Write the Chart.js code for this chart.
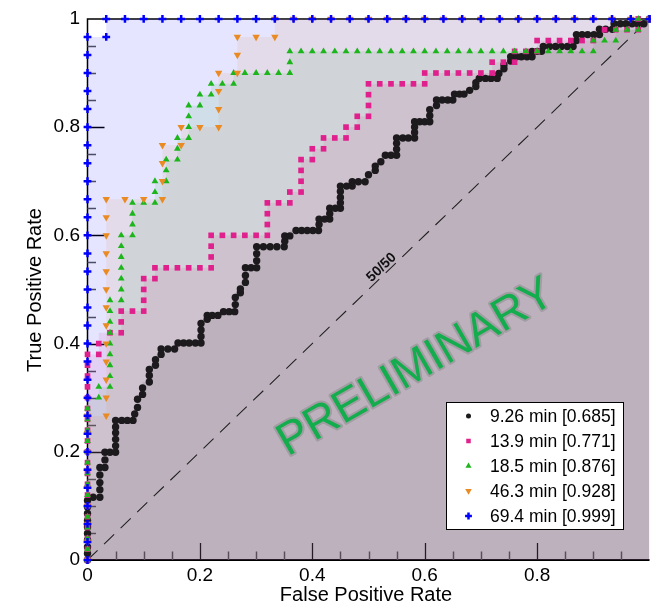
<!DOCTYPE html>
<html>
<head>
<meta charset="utf-8">
<script src="https://cdn.jsdelivr.net/npm/chart.js@4.4.1/dist/chart.umd.min.js"></script>
<style>
  html, body { margin: 0; padding: 0; background: #fff; }
  #wrap { width: 651px; height: 605px; overflow: hidden; }
  canvas { display: block; }
</style>
</head>
<body>
<div id="wrap"><canvas id="roc" width="656" height="605"></canvas></div>
<script>
// Etiquetas de la leyenda (ventana de tiempo [AUC])
const seriesNames = ['9.26 min [0.685]', '13.9 min [0.771]', '18.5 min [0.876]', '46.3 min [0.928]', '69.4 min [0.999]'];
const tickValues = [0, 0.2, 0.4, 0.6, 0.8, 1];

// 69.4 min: cuentas de falsos / verdaderos positivos (30 neg, 30 pos)
const blueNeg = 30, bluePos = 30;
const blueFP = [0,0,0,0,0,0,0,0,0,0,0,0,0,0,0,0,0,0,0,0,0,0,0,0,0,0,0,0,0,0,
  1,1,2,3,4,5,6,7,8,9,10,11,12,13,14,15,16,17,18,19,20,21,22,23,24,25,26,27,28,29,30];
const blueTP = [0,1,2,3,4,5,6,7,8,9,10,11,12,13,14,15,16,17,18,19,20,21,22,23,24,25,26,27,28,29,
  29,30,30,30,30,30,30,30,30,30,30,30,30,30,30,30,30,30,30,30,30,30,30,30,30,30,30,30,30,30,30];

// 46.3 min (30 neg, 30 pos)
const orangeNeg = 30, orangePos = 30;
const orangeFP = [0,0,0,0,0,0,0,0,0, 1,1,1,1,1,1,1,1,1,1,1,1,1, 2, 3, 4,4,4,4, 5,5, 6, 7,7,7,7, 8,8,8, 9, 10,10,
  11,12,13,14,15,16,17,18,19,20,21,22,23,24,25,26,27,28,29,30];
const orangeTP = [0,1,2,3,4,5,6,7,8, 8,9,10,11,12,13,14,15,16,17,18,19,20, 20, 20, 20,21,22,23, 23,24, 24, 24,25,26,27, 27,28,29, 29, 29,30,
  30,30,30,30,30,30,30,30,30,30,30,30,30,30,30,30,30,30,30,30];

// 18.5 min (50 neg, 50 pos)
const greenNeg = 50, greenPos = 50;
const greenFP = [0,0,0,0,0,0,0,0,0,0,0,0,0,0,0, 1,1, 2,2,2,2,2,2,2,2,2, 3,3,3,3,3,3,3, 4,4,4,4, 5, 6,6,6, 7,7,7, 8,8,8,
  9,9,9,9, 10,10, 11,11, 12, 13,13, 14,15,16,17, 18,18,18,
  19,20,21,22,23,24,25,26,27,28,29,30,31,32,33,34,35,36,37,38,39,40,41,42,43,44,45, 45, 46, 47,47, 48, 49,49, 50];
const greenTP = [0,1,2,3,4,5,6,7,8,9,10,11,12,13,14, 15,16, 16,17,18,19,20,21,22,23,24, 24,25,26,27,28,29,30, 30,31,32,33, 33, 33,34,35, 35,36,37, 37,38,39,
  39,40,41,42, 42,43, 43,44, 44, 44,45, 45,45,45,45, 45,46,47,
  47,47,47,47,47,47,47,47,47,47,47,47,47,47,47,47,47,47,47,47,47,47,47,47,47,47,47, 48, 48, 48,49, 49, 49,50, 50];

// 13.9 min (50 neg, 50 pos)
const magentaNeg = 50, magentaPos = 50;
const magentaFP = [0,0,0,0,0,0,0,0,0,0,0,0,0,0,0,0,0,0,0,0, 1,1, 2, 3,3,3, 4, 5,5,5,5, 6,6, 7,8,9,10, 11,11,11,11,
  12,13,14,15, 16,16,16,16, 17, 18,18, 19,19,19,19, 20,20, 21,21, 22, 23,23, 24,24, 25,25,25,25,
  26,27,28,29, 30,30, 31,32,33,34,35, 36,36, 37, 38,38, 39, 40,40, 41,42,43,44,45, 46, 47, 48, 49,49, 50];
const magentaTP = [0,1,2,3,4,5,6,7,8,9,10,11,12,13,14,15,16,17,18,19, 19,20, 21, 21,22,23, 23, 23,24,25,26, 26,27, 27,27,27,27, 27,28,29,30,
  30,30,30,30, 30,31,32,33, 33, 33,34, 34,35,36,37, 37,38, 38,39, 39, 39,40, 40,41, 41,42,43,44,
  44,44,44,44, 44,45, 45,45,45,45,45, 45,46, 46, 46,47, 47, 47,48, 48,48,48,48,48, 49, 49, 49, 49,50, 50];

// 9.26 min: tasas leidas directamente
const blackFPR = [0,0,0,0,0,0,0,0,0,0, 0.010, 0.022,0.022,0.022,0.022,0.022, 0.031,0.031,0.031, 0.040,0.050,
  0.050,0.050,0.050,0.050,0.050, 0.061,0.071,0.081, 0.084, 0.089,0.089, 0.098,0.098, 0.110,0.110,0.110,
  0.121,0.121, 0.131,0.131, 0.143,0.155, 0.161, 0.171,0.181,0.192,0.202, 0.202,0.202,0.202, 0.213,0.213,
  0.222,0.232, 0.242,0.252,0.262, 0.263,0.263, 0.272,0.272, 0.281,0.281,0.281, 0.291,0.301, 0.301,0.301,0.301,
  0.313,0.325,0.337,0.350, 0.351,0.351, 0.360, 0.371, 0.381,0.391,0.401,0.411, 0.412,0.412, 0.422,0.431,
  0.431,0.431, 0.441,0.450, 0.450,0.450,0.450,0.450, 0.461,0.471, 0.471, 0.482,0.494, 0.500, 0.512,0.512,
  0.522, 0.530, 0.540,0.550, 0.550,0.550,0.550, 0.561,0.571,0.582, 0.582,0.582,0.582, 0.591,0.600,0.609,
  0.609,0.609, 0.621,0.621, 0.631,0.641,0.650, 0.653, 0.662,0.670, 0.680, 0.691,0.691, 0.697,
  0.708,0.718,0.729, 0.732, 0.741,0.741, 0.753,0.753, 0.763,0.772,0.782,0.791, 0.791, 0.800,0.808, 0.811,
  0.822,0.833,0.843,0.854,0.864, 0.870,0.870, 0.880,0.890,0.901,0.911, 0.911, 0.922,0.934, 0.937,
  0.948,0.958,0.969,0.979,0.990, 1];
const blackTPR = [0,0.012,0.024,0.037,0.049,0.061,0.073,0.086,0.098,0.110, 0.116, 0.116,0.130,0.143,0.157,0.171, 0.171,0.185,0.199, 0.199,0.199,
  0.211,0.223,0.235,0.246,0.258, 0.258,0.258,0.258, 0.270, 0.282,0.297, 0.306,0.318, 0.329,0.341,0.352,
  0.360,0.370, 0.380,0.390, 0.390,0.390, 0.401, 0.401,0.401,0.401,0.401, 0.413,0.425,0.437, 0.445,0.452,
  0.452,0.452, 0.459,0.459,0.459, 0.472,0.485, 0.494,0.501, 0.513,0.526,0.540, 0.540,0.540, 0.553,0.566,0.579,
  0.579,0.579,0.579,0.579, 0.589,0.599, 0.599, 0.609, 0.609,0.609,0.609,0.609, 0.620,0.630, 0.630,0.630,
  0.640,0.650, 0.650,0.650, 0.660,0.670,0.681,0.691, 0.691,0.691, 0.699, 0.699,0.699, 0.712, 0.720,0.728,
  0.736, 0.748, 0.748,0.748, 0.759,0.770,0.780, 0.780,0.780,0.780, 0.790,0.800,0.810, 0.810,0.810,0.810,
  0.821,0.832, 0.840,0.850, 0.850,0.850,0.850, 0.861, 0.861,0.861, 0.868, 0.875,0.882, 0.890,
  0.890,0.890,0.890, 0.899, 0.908,0.915, 0.922,0.930, 0.930,0.930,0.930,0.930, 0.940, 0.940,0.940, 0.949,
  0.949,0.949,0.949,0.949,0.949, 0.960,0.971, 0.971,0.971,0.971,0.971, 0.981, 0.981,0.981, 0.991,
  0.991,0.991,0.991,0.991,0.991, 1];

// Estilo de cada curva (mismo orden que seriesNames)
const FONT = '"Liberation Sans", Arial, sans-serif';
const styles = [
  { color: '#1c1a1c', rgb: '0,0,0',       point: 'circle',   radius: 3.7, rot: 0,   bw: 0,   legendR: 2.5 },
  { color: '#e0208c', rgb: '224,32,140',  point: 'rect',     radius: 4.0, rot: 0,   bw: 0,   legendR: 3.2 },
  { color: '#1cb51c', rgb: '28,181,28',   point: 'triangle', radius: 3.9, rot: 0,   bw: 0,   legendR: 3.5 },
  { color: '#ea8a22', rgb: '234,138,34',  point: 'triangle', radius: 4.3, rot: 180, bw: 0,   legendR: 3.8 },
  { color: '#0000ff', rgb: '0,0,255',     point: 'cross',    radius: 3.9, rot: 0,   bw: 2.5, legendR: 3.4 }
];

function toPoints(fp, tp, nNeg, nPos) {
  return fp.map((v, i) => ({ x: v / nNeg, y: tp[i] / nPos }));
}

const curves = [
  blackFPR.map((v, i) => ({ x: v, y: blackTPR[i] })),
  toPoints(magentaFP, magentaTP, magentaNeg, magentaPos),
  toPoints(greenFP, greenTP, greenNeg, greenPos),
  toPoints(orangeFP, orangeTP, orangeNeg, orangePos),
  toPoints(blueFP, blueTP, blueNeg, bluePos)
];

const datasets = [];
// areas bajo cada curva (escalonadas, semitransparentes)
curves.forEach((pts, i) => {
  datasets.push({
    data: pts.slice(), showLine: true, stepped: 'after', fill: 'origin',
    backgroundColor: 'rgba(' + styles[i].rgb + ',0.1)',
    borderWidth: 0, borderColor: 'rgba(0,0,0,0)', pointRadius: 0, order: 30 - i
  });
});
// linea 50/50
datasets.push({
  data: [{ x: 0, y: 0 }, { x: 1, y: 1 }], showLine: true, fill: false,
  borderColor: '#222', borderWidth: 1.1, borderDash: [14, 9], pointRadius: 0, order: 15
});
// marcadores (sin recorte para que se vean sobre los ejes)
curves.forEach((pts, i) => {
  const s = styles[i];
  datasets.push({
    data: pts.slice(), showLine: false, clip: false,
    pointStyle: s.point, pointRadius: s.radius, pointRotation: s.rot,
    backgroundColor: s.color, borderColor: s.color, borderWidth: s.bw,
    order: 10 - i
  });
});

const decor = {
  id: 'decor',
  beforeDatasetsDraw(chart) {
    const { ctx, chartArea: a, scales: { x, y } } = chart;
    ctx.save();
    // marco
    ctx.strokeStyle = '#000';
    ctx.lineWidth = 1.5;
    ctx.beginPath();
    ctx.moveTo(a.right, a.top); ctx.lineTo(a.left, a.top); ctx.lineTo(a.left, a.bottom);
    ctx.stroke();
    ctx.lineWidth = 2;
    ctx.beginPath(); ctx.moveTo(a.left - 1, a.bottom); ctx.lineTo(a.right, a.bottom); ctx.stroke();

    // marcas hacia dentro
    for (let i = 1; i < 20; i++) {
      const v = i * 0.05;
      const major = i % 4 === 0;
      const len = major ? 17 : 8.5;
      ctx.strokeStyle = major ? '#000' : '#555';
      ctx.lineWidth = major ? 1.3 : 1.5;
      const px = Math.round(x.getPixelForValue(v)) + 0.5;
      const py = Math.round(y.getPixelForValue(v)) + 0.5;
      ctx.beginPath();
      ctx.moveTo(px, a.bottom); ctx.lineTo(px, a.bottom - len);
      ctx.moveTo(a.left, py); ctx.lineTo(a.left + len, py);
      ctx.stroke();
    }
    ctx.restore();
  },
  afterDatasetsDraw(chart) {
    const { ctx, chartArea: a } = chart;
    ctx.save();

    // marca de agua
    ctx.save();
    ctx.translate(416, 368);
    ctx.rotate(-30 * Math.PI / 180);
    ctx.font = '46px ' + FONT;
    ctx.textAlign = 'center';
    ctx.textBaseline = 'middle';
    ctx.lineJoin = 'round';
    ctx.strokeStyle = 'rgba(140,140,140,0.55)';
    ctx.lineWidth = 4;
    ctx.strokeText('PRELIMINARY', 0, 0);
    ctx.fillStyle = '#14ad4e';
    ctx.fillText('PRELIMINARY', 0, 0);
    ctx.restore();

    // etiqueta de la diagonal
    ctx.save();
    ctx.translate(381.5, 267.5);
    ctx.rotate(-Math.atan2(a.bottom - a.top, a.right - a.left));
    ctx.font = 'bold 14px ' + FONT;
    ctx.fillStyle = '#111';
    ctx.textAlign = 'center';
    ctx.textBaseline = 'middle';
    ctx.fillText('50/50', 0, 0);
    ctx.restore();

    // leyenda
    const lx = 446.5, ly = 402.5, lw = 177, lh = 127;
    ctx.fillStyle = '#fff';
    ctx.fillRect(lx, ly, lw, lh);
    ctx.strokeStyle = '#000';
    ctx.lineWidth = 1;
    ctx.strokeRect(lx, ly, lw, lh);
    ctx.font = '17.5px ' + FONT;
    ctx.textAlign = 'left';
    ctx.textBaseline = 'middle';
    seriesNames.forEach((name, i) => {
      const s = styles[i];
      const cy = 416 + i * 25;
      ctx.fillStyle = s.color;
      ctx.strokeStyle = s.color;
      ctx.lineWidth = s.bw;
      Chart.helpers.drawPoint(ctx, { pointStyle: s.point, radius: s.legendR, rotation: s.rot, borderWidth: s.bw }, 468.5, cy);
      ctx.fillStyle = '#000';
      ctx.fillText(name, 490, cy + 1);
    });

    // titulos de los ejes
    ctx.fillStyle = '#000';
    ctx.font = '20px ' + FONT;
    ctx.textAlign = 'center';
    ctx.textBaseline = 'middle';
    ctx.fillText('False Positive Rate', 366, 595);
    ctx.save();
    ctx.translate(35.5, 290);
    ctx.rotate(-Math.PI / 2);
    ctx.fillText('True Positive Rate', 0, 0);
    ctx.restore();

    ctx.restore();
  }
};

const tickFont = { family: FONT, size: 19 };

new Chart(document.getElementById('roc'), {
  type: 'scatter',
  data: { datasets: datasets },
  options: {
    responsive: false,
    animation: false,
    devicePixelRatio: 1,
    events: [],
    layout: { padding: { top: 14.5, right: 0, bottom: 0, left: 0 } },
    plugins: { legend: { display: false }, tooltip: { enabled: false } },
    scales: {
      x: {
        type: 'linear', min: 0, max: 1,
        grid: { display: false, drawTicks: false },
        border: { display: false },
        afterBuildTicks: s => { s.ticks = tickValues.map(v => ({ value: v })); },
        ticks: { font: tickFont, color: '#000', padding: 4.5, maxRotation: 0,
          callback: v => (v >= 0.999 ? '' : String(Math.round(v * 10) / 10)) },
        afterFit: s => { s.height = 45; }
      },
      y: {
        type: 'linear', min: 0, max: 1,
        grid: { display: false, drawTicks: false },
        border: { display: false },
        afterBuildTicks: s => { s.ticks = tickValues.map(v => ({ value: v })); },
        ticks: { font: tickFont, color: '#000', padding: 7.5,
          callback: v => String(Math.round(v * 10) / 10) },
        afterFit: s => { s.width = 87.5; }
      }
    }
  },
  plugins: [decor]
});
</script>
</body>
</html>
